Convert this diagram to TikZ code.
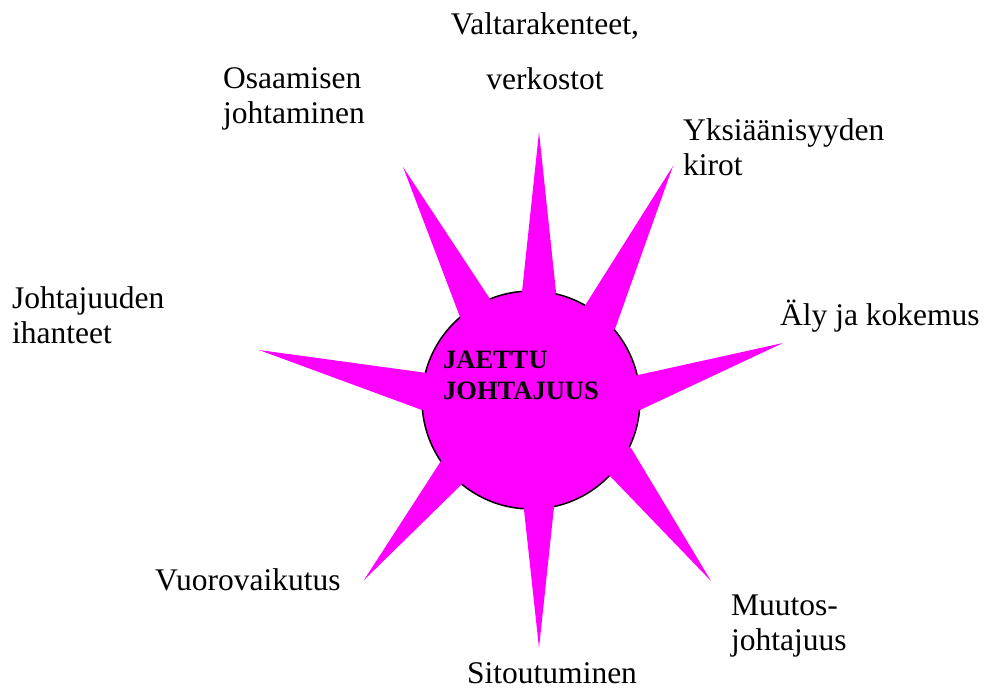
\documentclass[tikz,border=0pt]{standalone}
\usepackage{fontspec}
\setmainfont{Liberation Serif}
\usepackage{tikz}
\definecolor{sunpink}{RGB}{255,0,255}

\begin{document}
\begin{tikzpicture}[x=1pt,y=-1pt,
  lbl/.style={inner sep=0pt,anchor=base west,align=left,font=\fontsize{31.5}{35}\selectfont},
  ray/.style={fill=sunpink}]
\useasboundingbox (0,0) rectangle (984,690);
% keskus
\node[circle,draw=black,line width=1.5pt,fill=sunpink,minimum size=218pt,inner sep=0pt] (sun) at (531,400) {};
% sakarat
\fill[ray] (539,132) -- (522,292) -- (sun.center) -- (556,292) -- cycle;
\fill[ray] (673,166) -- (586,304) -- (sun.center) -- (615,329) -- cycle;
\fill[ray] (783,343) -- (638,375) -- (sun.center) -- (640,410) -- cycle;
\fill[ray] (711,581) -- (631,448) -- (sun.center) -- (610,476) -- cycle;
\fill[ray] (539,648) -- (554,507) -- (sun.center) -- (524,510) -- cycle;
\fill[ray] (364,580) -- (461,485) -- (sun.center) -- (441,461) -- cycle;
\fill[ray] (259,350) -- (422,410) -- (sun.center) -- (427,373) -- cycle;
\fill[ray] (403,167) -- (460,317) -- (sun.center) -- (490,299) -- cycle;
\node[lbl,font=\bfseries\fontsize{26.5}{31}\selectfont] (jaettu) at (443,399) {JAETTU\\JOHTAJUUS};
% tekstit (ankkuri viimeisen rivin peruslinjalla)
\node[lbl,align=center,anchor=base] (valta) at (545,90) {Valtarakenteet,\\[20pt]verkostot};
\node[lbl] (osaaminen) at (223,123) {Osaamisen\\johtaminen};
\node[lbl] (yksiaani) at (683,175) {Yksiäänisyyden\\kirot};
\node[lbl] (ihanteet) at (12,343) {Johtajuuden\\ihanteet};
\node[lbl] (aly) at (780,325) {Äly ja kokemus};
\node[lbl] (vuoro) at (155,590) {Vuorovaikutus};
\node[lbl] (sitout) at (467,683) {Sitoutuminen};
\node[lbl] (muutos) at (731,650) {Muutos-\\johtajuus};
\end{tikzpicture}
\end{document}
